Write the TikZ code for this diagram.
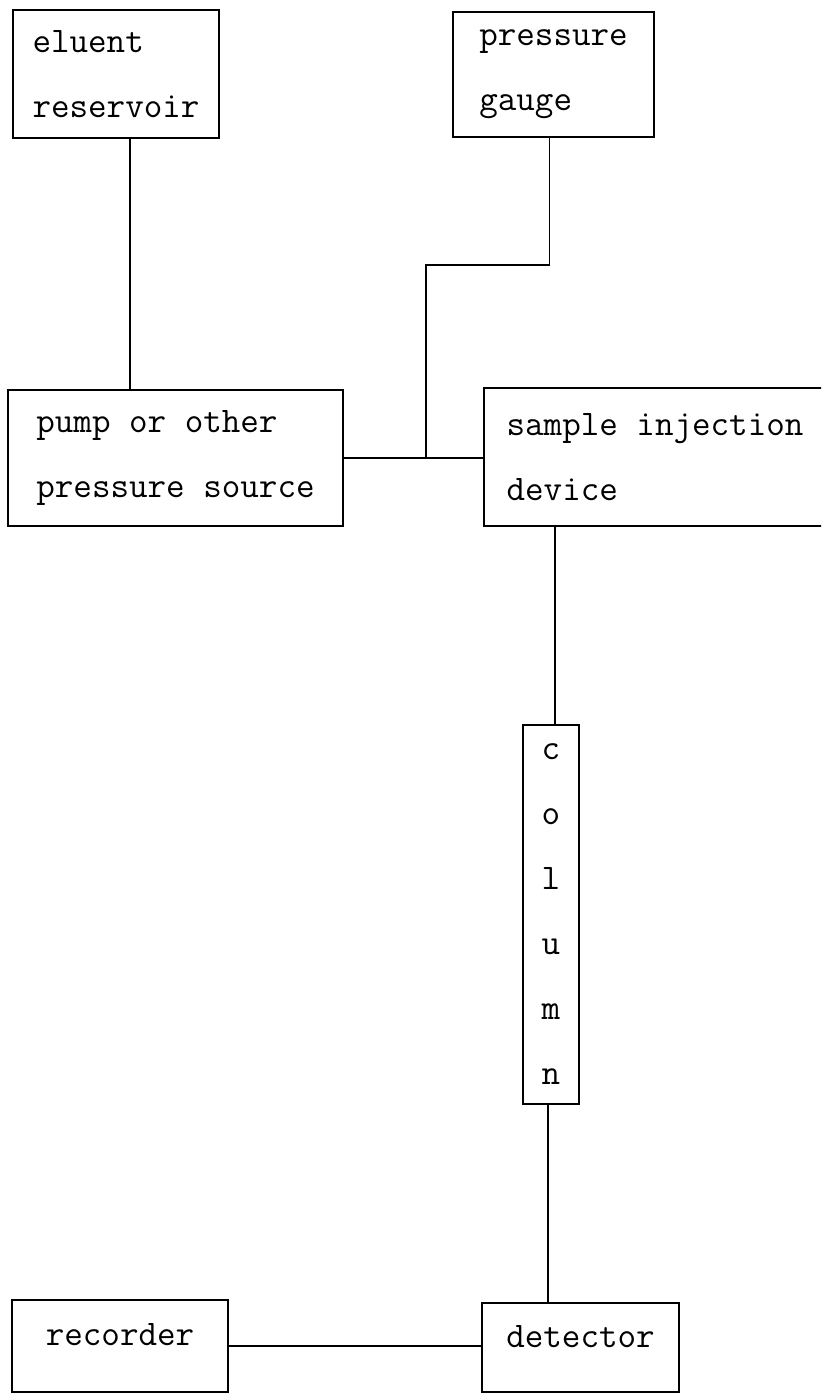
\documentclass[tikz,border=0pt]{standalone}
\usepackage{fontspec}
\usepackage{tikz}
\usetikzlibrary{positioning,calc}

\begin{document}
\begin{tikzpicture}[x=0.02cm, y=-0.02cm, line width=1pt,
    box/.style={draw, align=left, inner sep=0pt, font=\ttfamily\fontsize{20.5}{37}\selectfont}]
    \useasboundingbox (0,0) rectangle (821,1395);
    \clip (0,0) rectangle (821,1395);

    % Top row
    \node [box, minimum width=4.12cm, minimum height=2.56cm] (eluent) at (116,74) {eluent\\reservoir};
    \node [box, minimum width=4.02cm, minimum height=2.5cm] (gauge) at (553.5,74.5) {pressure\\gauge};

    % Middle row
    \node [box, minimum width=6.7cm, minimum height=2.72cm] (pump) at (175.5,458) {pump or other\\pressure source};
    \node [box, minimum width=6.84cm, minimum height=2.76cm] (inject) at (655,457) {sample injection\\device};

    % Column
    \node [box, align=center, minimum width=1.12cm, minimum height=7.58cm] (column) at (551,914.5) {c\\o\\l\\u\\m\\n};

    % Bottom row
    \node [box, text depth=0.45cm, minimum width=4.32cm, minimum height=1.84cm] (recorder) at (120,1346) {recorder};
    \node [box, text depth=0.45cm, minimum width=3.94cm, minimum height=1.78cm] (detector) at (580.5,1347.5) {detector};

    % Connections
    \draw (eluent.south) ++(14,0) coordinate (e1) -- (e1 |- pump.north);
    \draw (pump.east) -- coordinate[pos=0.59] (tee) (pump.east -| inject.west);
    \draw (tee) -- ++(0,-193) -| ([xshift=-0.08cm]gauge.south);
    \draw ([xshift=0.08cm]column.north) coordinate (c1) -- (c1 |- inject.south);
    \draw ([xshift=-0.06cm]column.south) coordinate (c2) -- (c2 |- detector.north);
    \draw (recorder.east) -- (recorder.east -| detector.west);
\end{tikzpicture}
\end{document}
